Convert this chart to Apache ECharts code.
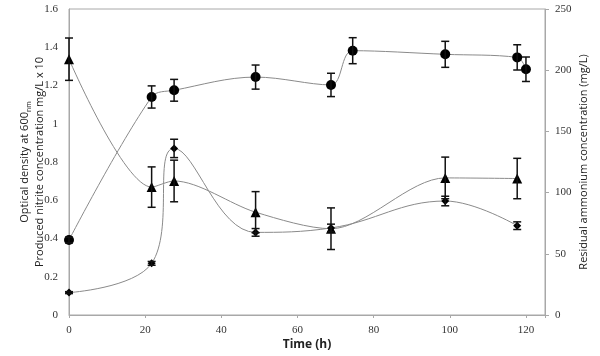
<!DOCTYPE html>
<html>
<head>
<meta charset="utf-8">
<script src="https://cdn.jsdelivr.net/npm/echarts@6/dist/echarts.min.js"></script>
<style>
  html, body { margin: 0; padding: 0; background: #fff; }
  #chart { width: 600px; height: 356px; }
</style>
</head>
<body>
<div id="chart"></div>
<script>
// 光密度 (circles), left axis
const odTime = [0, 21.7, 27.6, 49, 68.8, 74.5, 98.8, 117.7, 120];
const odValue = [0.392, 1.14, 1.175, 1.244, 1.203, 1.382, 1.363, 1.347, 1.285];
const odErr = [0.015, 0.058, 0.057, 0.063, 0.061, 0.068, 0.068, 0.066, 0.064];

// residual ammonium (triangles), right axis, mg/L
const nhTime = [0, 21.7, 27.6, 49, 68.8, 98.8, 117.7];
const nhValue = [209, 104.5, 109.5, 84, 70.5, 112, 111.5];
const nhErr = [17.3, 16.5, 17, 16.8, 17, 17, 16.5];

// produced nitrite (diamonds), left axis, mg/L x 10
const no2Time = [0, 21.7, 27.6, 49, 68.8, 98.8, 117.7];
const no2Value = [0.117, 0.27, 0.871, 0.432, 0.455, 0.596, 0.467];
const no2Err = [0.005, 0.01, 0.048, 0.02, 0.02, 0.025, 0.02];

const xTicks = [0, 20, 40, 60, 80, 100, 120];

const lineColor = '#8a8a8a';
const labelFont = 'Liberation Serif';
const titleFont = 'Open Sans';

function pts(t, v) { return t.map((x, i) => [x, v[i]]); }
function errs(t, v, e) { return t.map((x, i) => [x, v[i] - e[i], v[i] + e[i]]); }

function errorBar(params, api) {
  const x = api.value(0);
  const lo = api.coord([x, api.value(1)]);
  const hi = api.coord([x, api.value(2)]);
  const w = 4;
  const style = { stroke: '#111', lineWidth: 1.5 };
  return {
    type: 'group',
    children: [
      { type: 'line', shape: { x1: lo[0], y1: lo[1], x2: hi[0], y2: hi[1] }, style },
      { type: 'line', shape: { x1: lo[0] - w, y1: lo[1], x2: lo[0] + w, y2: lo[1] }, style },
      { type: 'line', shape: { x1: hi[0] - w, y1: hi[1], x2: hi[0] + w, y2: hi[1] }, style }
    ]
  };
}

let myChart = echarts.init(document.getElementById('chart'));
let option = {
  animation: false,
  grid: {
    left: 69, right: 55, top: 9, bottom: 41,
    show: true, borderColor: '#a8a8a8', borderWidth: 1
  },
  xAxis: {
    type: 'value',
    min: 0, max: 125, interval: 20,
    name: 'Time (h)',
    nameLocation: 'middle',
    nameGap: 24,
    nameMoveOverlap: false,
    nameTextStyle: { fontFamily: titleFont, fontWeight: 'bold', fontSize: 12, color: '#222' },
    axisLine: { lineStyle: { color: '#a8a8a8' } },
    axisTick: { length: 3, lineStyle: { color: '#a8a8a8' } },
    splitLine: { show: false },
    axisLabel: {
      fontFamily: labelFont, fontSize: 11, color: '#333', margin: 10,
      formatter: v => xTicks.indexOf(v) >= 0 ? String(v) : ''
    }
  },
  yAxis: [
    {
      type: 'value',
      min: 0, max: 1.6, interval: 0.2,
      name: '{a|Optical density at 600}{s|nm}\n{a|Produced nitrite concentration mg/L x 10}',
      nameLocation: 'middle',
      nameRotate: 90,
      nameGap: 22,
      nameMoveOverlap: false,
      nameTextStyle: {
        rich: {
          a: { fontFamily: titleFont, fontSize: 11, color: '#222', lineHeight: 15 },
          s: { fontFamily: titleFont, fontSize: 7, color: '#222', verticalAlign: 'bottom', lineHeight: 15, padding: [4, 0, 0, 0] }
        }
      },
      axisLine: { show: true, lineStyle: { color: '#a8a8a8' } },
      axisTick: { show: false },
      splitLine: { show: false },
      axisLabel: {
        fontFamily: labelFont, fontSize: 11, color: '#333', margin: 11,
        formatter: v => String(Math.round(v * 10) / 10)
      }
    },
    {
      type: 'value',
      min: 0, max: 250, interval: 50,
      name: 'Residual ammonium concentration (mg/L)',
      nameLocation: 'middle',
      nameRotate: 90,
      nameGap: 33,
      nameMoveOverlap: false,
      nameTextStyle: { fontFamily: titleFont, fontSize: 11, color: '#222' },
      axisLine: { show: true, lineStyle: { color: '#a8a8a8' } },
      axisTick: { show: true, length: 4, lineStyle: { color: '#a8a8a8' } },
      splitLine: { show: false },
      axisLabel: { fontFamily: labelFont, fontSize: 11, color: '#333', margin: 10 }
    }
  ],
  series: [
    {
      type: 'line', name: 'OD600', yAxisIndex: 0,
      data: pts(odTime, odValue),
      smooth: 0.35,
      symbol: 'circle', symbolSize: 10,
      itemStyle: { color: '#000' },
      lineStyle: { color: lineColor, width: 1 },
      z: 3
    },
    {
      type: 'line', name: 'Ammonium', yAxisIndex: 1,
      data: pts(nhTime, nhValue),
      smooth: 0.3,
      symbol: 'triangle', symbolSize: 10,
      itemStyle: { color: '#000' },
      lineStyle: { color: lineColor, width: 1 },
      z: 3
    },
    {
      type: 'line', name: 'Nitrite', yAxisIndex: 0,
      data: pts(no2Time, no2Value),
      smooth: 0.4,
      symbol: 'diamond', symbolSize: 8,
      itemStyle: { color: '#000' },
      lineStyle: { color: lineColor, width: 1 },
      z: 3
    },
    { type: 'custom', yAxisIndex: 0, renderItem: errorBar, data: errs(odTime, odValue, odErr), z: 4 },
    { type: 'custom', yAxisIndex: 1, renderItem: errorBar, data: errs(nhTime, nhValue, nhErr), z: 4 },
    { type: 'custom', yAxisIndex: 0, renderItem: errorBar, data: errs(no2Time, no2Value, no2Err), z: 4 }
  ]
};
myChart.setOption(option);
</script>
</body>
</html>
